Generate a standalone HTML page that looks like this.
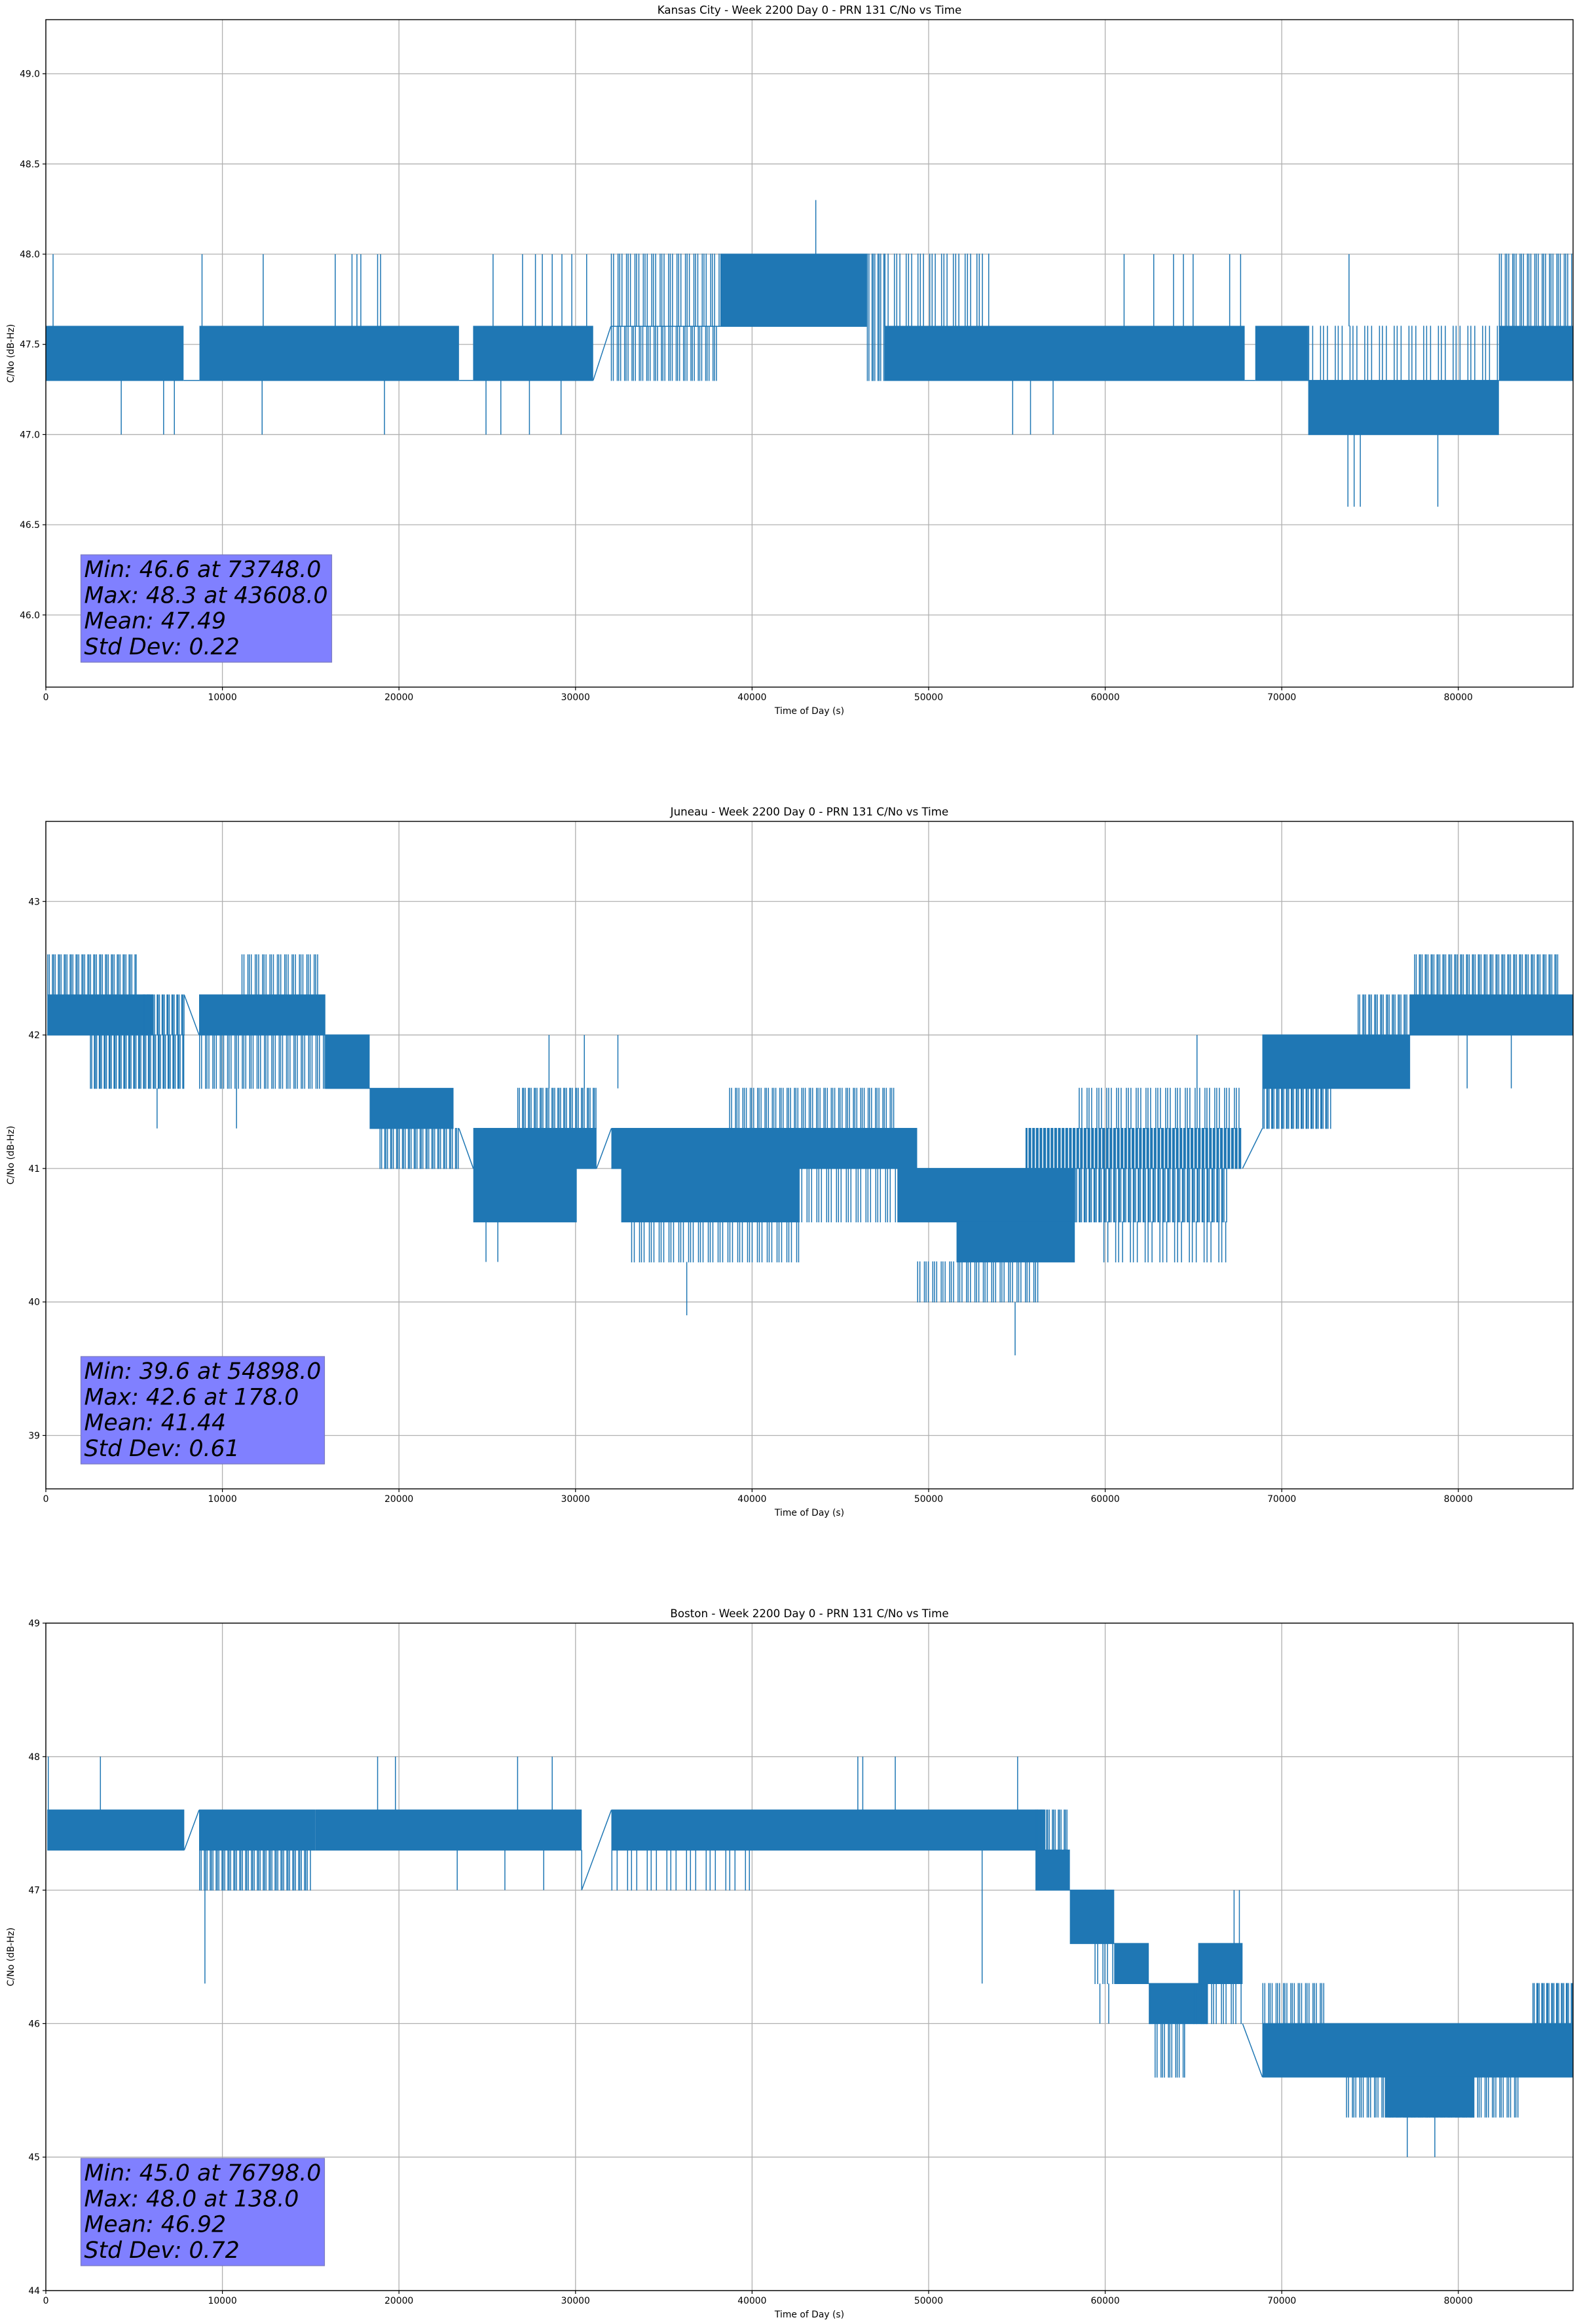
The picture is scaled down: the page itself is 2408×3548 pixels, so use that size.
<!DOCTYPE html>
<html><head><meta charset="utf-8">
<style>
html,body{margin:0;padding:0;background:#fff;}
svg{display:block;}
text{font-family:"DejaVu Sans","Liberation Sans",sans-serif;fill:#000;}
</style></head>
<body>
<svg id="fig" xmlns="http://www.w3.org/2000/svg" width="2408" height="3548" viewBox="0 0 2408 3548"></svg>
<script>
// ---------- data ----------
const titles = ["Kansas City - Week 2200 Day 0 - PRN 131 C/No vs Time",
                "Juneau - Week 2200 Day 0 - PRN 131 C/No vs Time",
                "Boston - Week 2200 Day 0 - PRN 131 C/No vs Time"];
const yLimits = [[45.6, 49.3], [38.6, 43.6], [44.0, 49.0]];
const yTicks1 = [46.0, 46.5, 47.0, 47.5, 48.0, 48.5, 49.0];
const yTicks2 = [39, 40, 41, 42, 43];
const yTicks3 = [44, 45, 46, 47, 48, 49];
const yTickDigits = [1, 0, 0];
const xTicks = [0, 10000, 20000, 30000, 40000, 50000, 60000, 70000, 80000];
const xMax = 86500;
const statsText = [
  ["Min: 46.6 at 73748.0", "Max: 48.3 at 43608.0", "Mean: 47.49", "Std Dev: 0.22"],
  ["Min: 39.6 at 54898.0", "Max: 42.6 at 178.0", "Mean: 41.44", "Std Dev: 0.61"],
  ["Min: 45.0 at 76798.0", "Max: 48.0 at 138.0", "Mean: 46.92", "Std Dev: 0.72"]
];
// bands: [tStart, tEnd, low, high, density]
const bands1 = [
  [0,7800,47.3,47.6,1],[7800,8700,47.3,47.3,1],[8700,23400,47.3,47.6,1],[23400,24200,47.3,47.3,1],
  [24200,31000,47.3,47.6,1],[32000,38200,47.6,48.0,0.35],[32000,38200,47.3,47.6,0.4],[32000,38200,47.6,47.6,1],
  [38200,46500,47.6,48.0,1],[46500,47500,47.3,48.0,0.5],[47500,53500,47.6,48.0,0.25],
  [47500,67900,47.3,47.6,0.92],[67900,68500,47.3,47.3,1],[68500,71500,47.3,47.6,0.9],
  [71500,82300,47.0,47.3,1],[71500,82300,47.3,47.6,0.2],[82300,86500,47.3,47.6,1],[82300,86500,47.6,48.0,0.4]
];
const bands2 = [
  [80,6050,42.0,42.3,1],[80,5200,42.3,42.6,0.5],[2500,7840,41.6,42.0,0.6],[5500,7840,42.0,42.3,0.6],
  [8680,15830,42.0,42.3,1],[11080,15550,42.3,42.6,0.4],[8680,15830,41.6,42.0,0.4],
  [15830,18340,41.6,42.0,1],[18340,23090,41.3,41.6,1],[18900,23400,41.0,41.3,0.5],
  [24210,31190,41.0,41.3,1],[24210,30070,40.6,41.0,0.9],[26700,31190,41.3,41.6,0.5],
  [32030,49350,41.0,41.3,1],[32590,42640,40.6,41.0,0.85],[42640,48230,40.6,41.0,0.3],
  [33150,42640,40.3,40.6,0.3],[38700,48230,41.3,41.6,0.4],
  [48230,58280,40.6,41.0,1],[51580,58280,40.3,40.6,1],[49350,56300,40.0,40.3,0.35],
  [55490,67780,41.0,41.3,0.8],[58280,66900,40.6,41.0,0.6],[58500,67780,41.3,41.6,0.3],[59900,66900,40.3,40.6,0.2],
  [68900,77270,41.6,42.0,1],[68900,72800,41.3,41.6,0.6],[74300,77270,42.0,42.3,0.5],
  [77270,86500,42.0,42.3,1],[77500,85700,42.3,42.6,0.5]
];
const bands3 = [
  [80,7840,47.3,47.6,1],[8680,15270,47.3,47.6,0.9],[8680,15000,47.0,47.3,0.5],
  [15270,30350,47.3,47.6,1],[32030,56610,47.3,47.6,1],[32030,39900,47.0,47.3,0.15],
  [56050,58000,47.0,47.3,1],[56050,58000,47.3,47.6,0.5],[58000,60510,46.6,47.0,1],
  [60510,62470,46.3,46.6,1],[59400,60510,46.3,46.6,0.3],[62470,65820,46.0,46.3,1],[62800,64500,45.6,46.0,0.4],
  [65270,67780,46.3,46.6,1],[65000,67780,46.0,46.3,0.3],
  [68900,86500,45.6,46.0,0.92],[68900,72500,46.0,46.3,0.4],[84200,86500,46.0,46.3,0.6],
  [73640,83420,45.3,45.6,0.4],[75880,80910,45.3,45.6,1]
];
// spikes: [t, low, high]
const spikes1 = [
  [410,47.6,48.0],[8846,47.6,48.0],[12310,47.6,48.0],[16390,47.6,48.0],[17340,47.6,48.0],[17620,47.6,48.0],
  [17840,47.6,48.0],[18790,47.6,48.0],[18960,47.6,48.0],[25330,47.6,48.0],[27000,47.6,48.0],[27730,47.6,48.0],
  [28120,47.6,48.0],[28680,47.6,48.0],[29230,47.6,48.0],[29790,47.6,48.0],[30630,47.6,48.0],
  [43608,48.0,48.3],[61070,47.6,48.0],[62750,47.6,48.0],[63870,47.6,48.0],[64430,47.6,48.0],[64980,47.6,48.0],
  [67050,47.6,48.0],[67670,47.6,48.0],[73810,47.6,48.0],
  [4270,47.0,47.3],[6670,47.0,47.3],[7280,47.0,47.3],[12250,47.0,47.3],[19180,47.0,47.3],[24930,47.0,47.3],
  [25770,47.0,47.3],[27390,47.0,47.3],[29180,47.0,47.3],[54760,47.0,47.3],[55770,47.0,47.3],[57050,47.0,47.3],
  [73748,46.6,47.0],[74100,46.6,47.0],[74450,46.6,47.0],[78840,46.6,47.0]
];
const spikes2 = [
  [6300,41.3,41.6],[10800,41.3,41.6],[24930,40.3,40.6],[25600,40.3,40.6],[28500,41.6,42.0],
  [30500,41.6,42.0],[32400,41.6,42.0],[36300,39.9,40.3],[54898,39.6,40.0],[65200,41.6,42.0],
  [83000,41.6,42.0],[80500,41.6,42.0]
];
const spikes3 = [
  [138,47.6,48.0],[3090,47.6,48.0],[9010,46.3,47.0],[18790,47.6,48.0],[19800,47.6,48.0],[26720,47.6,48.0],
  [28680,47.6,48.0],[45990,47.6,48.0],[46270,47.6,48.0],[48110,47.6,48.0],[55040,47.6,48.0],
  [23300,47.0,47.3],[26000,47.0,47.3],[28200,47.0,47.3],[30350,47.0,47.3],[53030,46.3,47.3],
  [67300,46.6,47.0],[67600,46.6,47.0],[59700,46.0,46.3],[60200,46.0,46.3],[77110,45.0,45.3],[78670,45.0,45.3]
];
// ramps: [t0, v0, t1, v1]
const ramps1 = [[31000,47.3,32000,47.6]];
const ramps2 = [[7840,42.3,8680,42.0],[23400,41.3,24210,41.0],[31190,41.0,32030,41.3],[67780,41.0,68900,41.3]];
const ramps3 = [[7840,47.3,8680,47.6],[30350,47.0,32030,47.6],[67780,46.0,68900,45.6]];

const allBands = [bands1, bands2, bands3];
const allSpikes = [spikes1, spikes2, spikes3];
const allRamps = [ramps1, ramps2, ramps3];
const allYTicks = [yTicks1, yTicks2, yTicks3];
const panelNames = ["kansas-city", "juneau", "boston"];

// ---------- drawing ----------
const NS = "http://www.w3.org/2000/svg";
const fig = document.getElementById("fig");
const AX_L = 70, AX_R = 2402, AX_H = 1019, TOPS = [30, 1254, 2478];
const BLUE = "#1f77b4";
function mk(tag, attrs, parent) {
  const e = document.createElementNS(NS, tag);
  for (const k in attrs) e.setAttribute(k, attrs[k]);
  parent.appendChild(e);
  return e;
}
const defs = mk("defs", {}, fig);

for (let p = 0; p < 3; p++) {
  const top = TOPS[p], bot = top + AX_H;
  const [y0, y1] = yLimits[p];
  const xs = t => AX_L + (t / xMax) * (AX_R - AX_L);
  const ys = v => bot - (v - y0) / (y1 - y0) * AX_H;

  const g = mk("g", {}, fig);
  
  

  const cp = mk("clipPath", {id: "clip" + p}, defs);
  mk("rect", {x: AX_L, y: top, width: AX_R - AX_L, height: AX_H}, cp);

  // grid
  const grid = mk("g", {stroke: "#b0b0b0", "stroke-width": 1.3}, g);
  
  
  xTicks.forEach(t => mk("line", {x1: xs(t), x2: xs(t), y1: top, y2: bot}, grid));
  allYTicks[p].forEach(v => mk("line", {x1: AX_L, x2: AX_R, y1: ys(v), y2: ys(v)}, grid));

  // data
  const dg = mk("g", {"clip-path": "url(#clip" + p + ")"}, g);
  
  
  allBands[p].forEach(b => {
    const xa = xs(b[0]), xb = xs(b[1]);
    const ya = ys(b[3]) - 0.75, h = Math.max(1.5, ys(b[2]) - ys(b[3]) + 1.5);
    if (b[4] >= 0.85) {
      const r = mk("rect", {x: xa, y: ya, width: Math.max(1.5, xb - xa), height: h, fill: BLUE}, dg);
      
      
    } else {
      const step = 1.5 / b[4];
      let d = "";
      let k = 0;
      for (let x = xa + 0.75; x < xb; x += step * (k % 3 === 1 ? 1.6 : (k % 3 === 2 ? 0.6 : 0.8)), k++) {
        d += "M" + x.toFixed(1) + " " + ya.toFixed(1) + "v" + h.toFixed(1);
      }
      const pth = mk("path", {d: d, stroke: BLUE, "stroke-width": 1.5, fill: "none"}, dg);
      
      
    }
  });
  allSpikes[p].forEach(s => {
    const l = mk("line", {x1: xs(s[0]), x2: xs(s[0]), y1: ys(s[1]), y2: ys(s[2]), stroke: BLUE, "stroke-width": 1.5}, dg);
    
    
  });
  allRamps[p].forEach(r => {
    const l = mk("line", {x1: xs(r[0]), x2: xs(r[2]), y1: ys(r[1]), y2: ys(r[3]), stroke: BLUE, "stroke-width": 1.5}, dg);
    
    
  });

  // spines
  const sp = mk("rect", {x: AX_L, y: top, width: AX_R - AX_L, height: AX_H, fill: "none", stroke: "#000", "stroke-width": 1.4}, g);
  
  

  // x ticks
  const xt = mk("g", {}, g);
  
  
  xTicks.forEach(t => {
    mk("line", {x1: xs(t), x2: xs(t), y1: bot, y2: bot + 5, stroke: "#000", "stroke-width": 1.2}, xt);
    const tx = mk("text", {x: xs(t), y: bot + 20, "text-anchor": "middle", "font-size": 13.9}, xt);
    tx.textContent = String(t);
    
    
  });
  const xl = mk("text", {x: (AX_L + AX_R) / 2, y: bot + 41, "text-anchor": "middle", "font-size": 13.9}, g);
  xl.textContent = "Time of Day (s)";
  
  

  // y ticks
  const yt = mk("g", {}, g);
  
  
  allYTicks[p].forEach(v => {
    mk("line", {x1: AX_L - 5, x2: AX_L, y1: ys(v), y2: ys(v), stroke: "#000", "stroke-width": 1.2}, yt);
    const tx = mk("text", {x: AX_L - 9, y: ys(v) + 5, "text-anchor": "end", "font-size": 13.9}, yt);
    tx.textContent = v.toFixed(yTickDigits[p]);
    
    
  });
  const yl = mk("text", {x: 0, y: 0, "text-anchor": "middle", "font-size": 13.9,
    transform: "translate(21," + ((top + bot) / 2) + ") rotate(-90)"}, g);
  yl.textContent = "C/No (dB-Hz)";
  
  

  // title
  const ti = mk("text", {x: (AX_L + AX_R) / 2, y: top - 9, "text-anchor": "middle", "font-size": 16.7}, g);
  ti.textContent = titles[p];
  
  

  // stats box
  const bw = p === 0 ? 383 : 372, bh = 164, bx = 123.5, by = bot - 38 - bh;
  const sb = mk("g", {}, g);
  
  
  mk("rect", {x: bx, y: by, width: bw, height: bh, fill: "#8080ff", stroke: "#7a7abf", "stroke-width": 1.2}, sb);
  statsText[p].forEach((s, i) => {
    const tx = mk("text", {x: bx + 5, y: by + 34 + i * 39.3, "font-size": 34.7, "font-style": "italic"}, sb);
    tx.textContent = s;
    
    
  });
}
</script>
</body></html>
